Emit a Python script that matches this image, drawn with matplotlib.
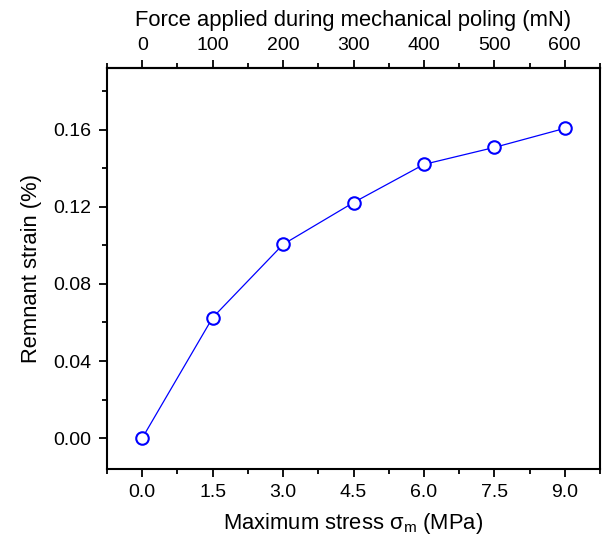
import matplotlib
matplotlib.use("Agg")
import matplotlib.pyplot as plt
from matplotlib.ticker import MultipleLocator

plt.rcParams["font.family"] = ["Liberation Sans", "DejaVu Sans"]
plt.rcParams["mathtext.fontset"] = "custom"
plt.rcParams["mathtext.rm"] = "Liberation Sans"
plt.rcParams["mathtext.it"] = "Liberation Sans:italic"

# data
stress = [0.0, 1.5, 3.0, 4.5, 6.0, 7.5, 9.0]            # MPa
strain = [0.000, 0.0625, 0.1005, 0.1222, 0.1420, 0.1508, 0.1607]  # %
force_ticks = [0, 100, 200, 300, 400, 500, 600]         # mN
mn_per_mpa = 600 / 9.0

fig = plt.figure(figsize=(6.03, 5.40), dpi=100)
ax = fig.add_axes([107 / 603, 1 - 469 / 540, 493 / 603, 401 / 540])

ax.plot(stress, strain, "-", color="blue", lw=0.9, zorder=2)
ax.plot(stress, strain, "o", ms=9, mfc="white", mec="blue", mew=1.5, zorder=3)

ax.set_xlim(-0.75, 9.75)
ax.set_ylim(-0.016, 0.192)
ax.xaxis.set_minor_locator(MultipleLocator(0.75))
ax.yaxis.set_minor_locator(MultipleLocator(0.02))
ax.set_xticks(stress)
ax.set_xticklabels([f"{v:.1f}" for v in stress])
ax.set_yticks([0.0, 0.04, 0.08, 0.12, 0.16])
ax.set_yticklabels(["0.00", "0.04", "0.08", "0.12", "0.16"])

ax.tick_params(which="major", direction="out", length=6, width=1.3, labelsize=14, pad=5)
ax.tick_params(which="minor", direction="out", length=3.5, width=1.3)
for s in ax.spines.values():
    s.set_linewidth(1.5)

ax.set_xlabel("Maximum stress σ$_{\\mathrm{m}}$ (MPa)", fontsize=15.8, labelpad=7)
ax.set_ylabel("Remnant strain (%)", fontsize=15.8, labelpad=8)

top = ax.secondary_xaxis("top", functions=(lambda x: x * mn_per_mpa, lambda f: f / mn_per_mpa))
top.set_xticks(force_ticks)
top.xaxis.set_minor_locator(MultipleLocator(50))
top.tick_params(which="major", direction="out", length=6, width=1.3, labelsize=14, pad=4)
top.tick_params(which="minor", direction="out", length=3.5, width=1.3)
top.spines["top"].set_linewidth(1.5)
top.set_xlabel("Force applied during mechanical poling (mN)", fontsize=15.8, labelpad=8)

fig.savefig("out.png", dpi=100)
